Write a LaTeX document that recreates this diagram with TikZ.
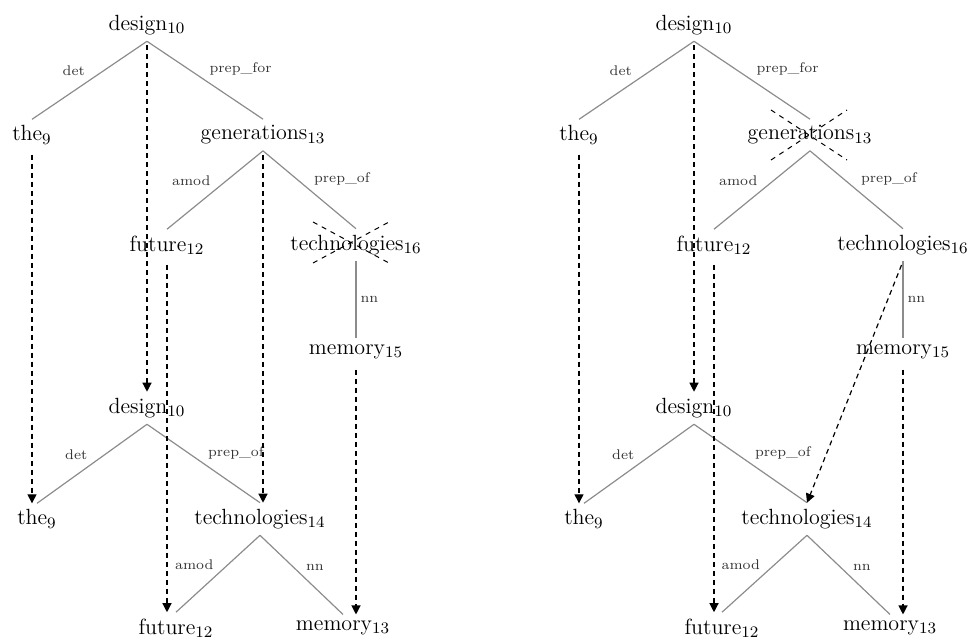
\documentclass[tikz,border=0pt]{standalone}
\usepackage{tikz}
\usetikzlibrary{arrows.meta}

\begin{document}
\begin{tikzpicture}[x=0.5pt, y=-0.5pt,
  wd/.style={inner xsep=2pt, inner ysep=3pt, font=\fontsize{11}{13}\selectfont},
  dep/.style={draw=black!45, line width=0.6pt},
  lab/.style={font=\scriptsize, text=black!80, inner sep=2pt},
  al/.style={draw, dash pattern=on 2.5pt off 2pt, line width=0.6pt,
    shorten <=2pt, -{Triangle[length=4.5pt,width=4.5pt]}},
  xout/.style={draw, dash pattern=on 2.5pt off 2.5pt, line width=0.5pt}]
\useasboundingbox (0,0) rectangle (974,642);

% left: source tree
\node[wd] (ldes) at (147,25) {design$_{10}$};
\node[wd] (lthe) at (32,135) {the$_{9}$};
\node[wd] (lgen) at (263,135) {generations$_{13}$};
\node[wd] (lfut) at (167,245) {future$_{12}$};
\node[wd] (ltec) at (356,245) {technologies$_{16}$};
\node[wd] (lmem) at (356,352) {memory$_{15}$};
\draw[dep] (ldes.south) -- (lthe.north) node[lab, midway, above left]{det};
\draw[dep] (ldes.south) -- (lgen.north) node[lab, midway, above right]{prep\_for};
\draw[dep] (lgen.south) -- (lfut.north) node[lab, midway, above left]{amod};
\draw[dep] (lgen.south) -- (ltec.north) node[lab, midway, above right]{prep\_of};
\draw[dep] (ltec.south) -- (lmem.north) node[lab, midway, right]{nn};
\draw[xout] ([shift={(-43,-23)}]ltec.center) -- ([shift={(33,18)}]ltec.center);
\draw[xout] ([shift={(-43,18)}]ltec.center) -- ([shift={(33,-23)}]ltec.center);

% left: target tree
\node[wd] (ldesb) at (147,408) {design$_{10}$};
\node[wd] (ltheb) at (37,519) {the$_{9}$};
\node[wd] (ltecb) at (260,519) {technologies$_{14}$};
\node[wd] (lfutb) at (176,628) {future$_{12}$};
\node[wd] (lmemb) at (343,628) {memory$_{13}$};
\draw[dep] (ldesb.south) -- (ltheb.north) node[lab, midway, above left]{det};
\draw[dep] (ldesb.south) -- (ltecb.north) node[lab, midway, above right]{prep\_of};
\draw[dep] (ltecb.south) -- (lfutb.north) node[lab, midway, above left]{amod};
\draw[dep] (ltecb.south) -- (lmemb.north) node[lab, midway, above right]{nn};

% left: alignment
\draw[al] (ldes.south) -- (ldes.south |- ldesb.north);
\draw[al] (lthe.south) -- (lthe.south |- ltheb.north);
\draw[al] (lgen.south) -- (lgen.south |- ltecb.north);
\draw[al] (lfut.south) -- (lfut.south |- lfutb.north);
\draw[al] (lmem.south) -- (lmem.south |- lmemb.north);

% right: source tree
\node[wd] (rdes) at (694,25) {design$_{10}$};
\node[wd] (rthe) at (579,135) {the$_{9}$};
\node[wd] (rgen) at (810,135) {generations$_{13}$};
\node[wd] (rfut) at (714,245) {future$_{12}$};
\node[wd] (rtec) at (903,245) {technologies$_{16}$};
\node[wd] (rmem) at (903,352) {memory$_{15}$};
\draw[dep] (rdes.south) -- (rthe.north) node[lab, midway, above left]{det};
\draw[dep] (rdes.south) -- (rgen.north) node[lab, midway, above right]{prep\_for};
\draw[dep] (rgen.south) -- (rfut.north) node[lab, midway, above left]{amod};
\draw[dep] (rgen.south) -- (rtec.north) node[lab, midway, above right]{prep\_of};
\draw[dep] (rtec.south) -- (rmem.north) node[lab, midway, right]{nn};
\draw[xout] ([shift={(-39,-25)}]rgen.center) -- ([shift={(37,25)}]rgen.center);
\draw[xout] ([shift={(-39,25)}]rgen.center) -- ([shift={(37,-25)}]rgen.center);

% right: target tree
\node[wd] (rdesb) at (694,408) {design$_{10}$};
\node[wd] (rtheb) at (584,519) {the$_{9}$};
\node[wd] (rtecb) at (807,519) {technologies$_{14}$};
\node[wd] (rfutb) at (722,628) {future$_{12}$};
\node[wd] (rmemb) at (890,628) {memory$_{13}$};
\draw[dep] (rdesb.south) -- (rtheb.north) node[lab, midway, above left]{det};
\draw[dep] (rdesb.south) -- (rtecb.north) node[lab, midway, above right]{prep\_of};
\draw[dep] (rtecb.south) -- (rfutb.north) node[lab, midway, above left]{amod};
\draw[dep] (rtecb.south) -- (rmemb.north) node[lab, midway, above right]{nn};

% right: alignment
\draw[al] (rdes.south) -- (rdes.south |- rdesb.north);
\draw[al] (rthe.south) -- (rthe.south |- rtheb.north);
\draw[al] (rfut.south) -- (rfut.south |- rfutb.north);
\draw[al] (rtec.south) -- (rtecb.north);
\draw[al] (rmem.south) -- (rmem.south |- rmemb.north);
\end{tikzpicture}
\end{document}
